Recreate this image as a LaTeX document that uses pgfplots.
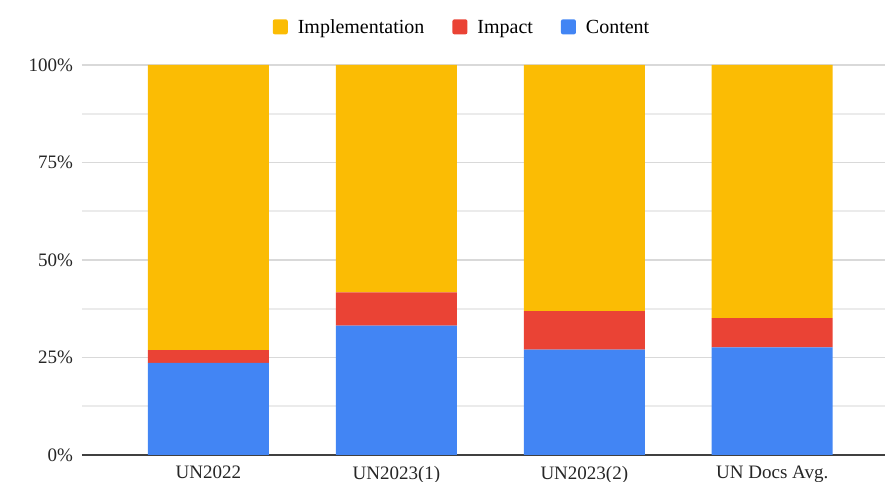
\documentclass[border=0pt]{standalone}
\usepackage{pgfplots}
\pgfplotsset{compat=1.18}
\usepackage{pgfplotstable}
\usepackage{fontspec}
\setmainfont{Liberation Serif}

\definecolor{gimpl}{HTML}{FBBC04}
\definecolor{gimpact}{HTML}{EA4335}
\definecolor{gcontent}{HTML}{4285F4}
\definecolor{gridmaj}{HTML}{D9D9D9}
\definecolor{gridmin}{HTML}{EBEBEB}

% shares (%) per document set
\pgfplotstableread{
x content impact impl
0 23.6 3.3 73.1
1 33.2 8.5 58.3
2 27.0 9.9 63.1
3 27.6 7.5 64.9
}\shares

\begin{document}
\begin{tikzpicture}
\begin{axis}[
    at={(0,0)}, anchor=south west,
    scale only axis,
    width=401.5pt, height=195pt,
    ybar stacked,
    bar width=60.5pt,
    xmin=-0.673, xmax=3.6,
    ymin=0, ymax=100,
    xtick=data,
    xticklabels={UN2022, UN2023(1), UN2023(2), UN Docs Avg.},
    ytick={0,25,50,75,100},
    minor ytick={12.5,37.5,62.5,87.5},
    yticklabel={\pgfmathprintnumber{\tick}\%},
    /pgf/number format/assume math mode=true,
    ymajorgrids, yminorgrids,
    major grid style={gridmaj, line width=0.8pt},
    minor grid style={gridmin, line width=0.8pt},
    axis x line*=bottom,
    axis y line*=left,
    y axis line style={draw=none},
    x axis line style={black!75, line width=0.8pt},
    major tick length=0pt, minor tick length=0pt,
    tick label style={font=\fontsize{9.5}{11}\selectfont, text=black!85},
    yticklabel style={xshift=-1pt},
    xticklabel style={yshift=-2pt},
    reverse legend,
    legend style={
        draw=none, fill=none,
        at={(0.4745,1.095)}, anchor=center,
        legend columns=-1,
        font=\fontsize{10}{12}\selectfont,
        nodes={text height=1.6ex, text depth=0.4ex},
        /tikz/every even column/.append style={column sep=12pt},
        /tikz/every odd column/.append style={column sep=3pt},
    },
    legend image code/.code={
        \fill[#1, rounded corners=1pt] (0pt,-3.2pt) rectangle (7.5pt,4.3pt);
    },
    axis on top=false,
]
\addplot[fill=gcontent, draw=none] table[x=x, y=content] {\shares};
\addlegendentry{Content}
\addplot[fill=gimpact, draw=none] table[x=x, y=impact] {\shares};
\addlegendentry{Impact}
\addplot[fill=gimpl, draw=none] table[x=x, y=impl] {\shares};
\addlegendentry{Implementation}
\end{axis}
\pgfresetboundingbox
\useasboundingbox (-41pt,-13.5pt) rectangle (401.5pt,227.5pt);
\end{tikzpicture}
\end{document}
